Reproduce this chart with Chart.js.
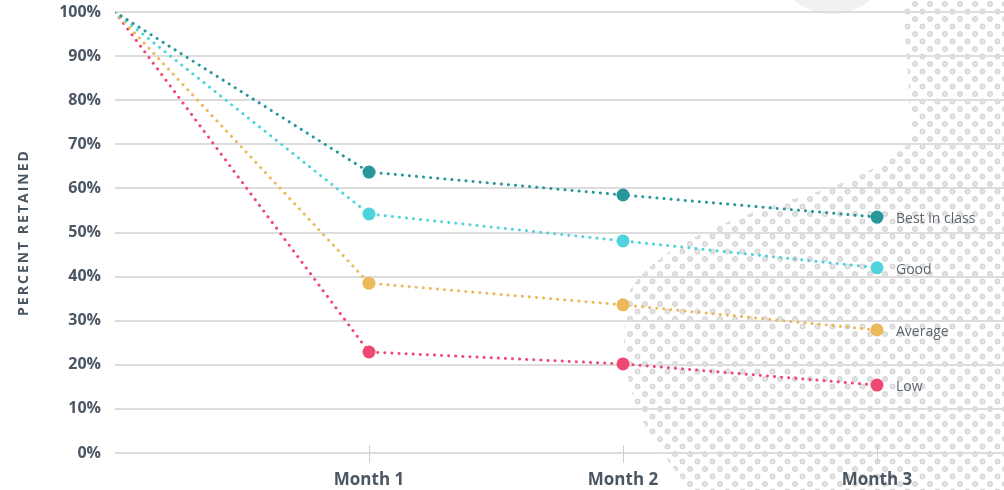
<!DOCTYPE html>
<html>
<head>
<meta charset="utf-8">
<script src="https://cdn.jsdelivr.net/npm/chart.js"></script>
<style>
  body { margin: 0; background: #fff; }
  canvas { display: block; }
</style>
</head>
<body>
<canvas id="chart" width="1004" height="490"></canvas>
<script>
// data
const categories = ["", "Month 1", "Month 2", "Month 3"];
const seriesNames = ["Best in class", "Good", "Average", "Low"];
const bestInClass = [100, 63.7, 58.5, 53.5];
const good = [100, 54.2, 48.1, 42.0];
const average = [100, 38.5, 33.6, 27.9];
const low = [100, 22.9, 20.2, 15.4];
const yTickValues = [0, 5, 10, 15, 20, 25, 30, 35, 40, 45, 50, 55, 60, 65, 70, 75, 80, 85, 90, 95, 100];
const yLabelValues = [0, 10, 20, 30, 40, 50, 60, 70, 80, 90, 100];
const seriesColors = ["#27979c", "#4fd3dd", "#ebb95a", "#ef4872"];

const allSeries = [bestInClass, good, average, low];
const textColor = "#4b5663";

// dotted background decoration
const backdrop = {
    id: "backdrop",
    beforeDraw(chart) {
        const ctx = chart.ctx;
        ctx.save();
        ctx.fillStyle = "#fff";
        ctx.fillRect(0, 0, chart.width, chart.height);

        ctx.fillStyle = "#f1f1f1";
        ctx.beginPath();
        ctx.arc(832, -45, 59, 0, Math.PI * 2);
        ctx.fill();

        ctx.beginPath();
        ctx.moveTo(903, 0);
        ctx.lineTo(912, 140);
        ctx.quadraticCurveTo(880, 175, 790, 200);
        ctx.quadraticCurveTo(660, 240, 630, 290);
        ctx.quadraticCurveTo(610, 380, 660, 450);
        ctx.lineTo(690, 490);
        ctx.lineTo(1004, 490);
        ctx.lineTo(1004, 0);
        ctx.closePath();
        ctx.clip();

        ctx.fillStyle = "#e4e4e4";
        ctx.strokeStyle = "#c8c8c8";
        ctx.lineWidth = 0.8;
        let row = 0;
        for (let y = 4; y < 495; y += 7.5) {
            const off = (row % 2) * 7.5;
            for (let x = 600 + off; x < 1010; x += 15) {
                ctx.beginPath();
                ctx.arc(x, y, 2.5, 0, Math.PI * 2);
                ctx.fill();
                ctx.stroke();
            }
            row++;
        }
        ctx.restore();
    }
};

const extras = {
    id: "extras",
    afterDatasetsDraw(chart) {
        const ctx = chart.ctx;
        ctx.save();
        // series names next to last points
        ctx.font = "14px 'Open Sans'";
        ctx.fillStyle = "#5d656e";
        ctx.textBaseline = "middle";
        chart.data.datasets.forEach((ds, i) => {
            const pts = chart.getDatasetMeta(i).data;
            const p = pts[pts.length - 1];
            ctx.fillText(ds.label, p.x + 19, p.y + 2);
        });

        // small tick marks on the x axis
        const xs = chart.scales.x;
        const y0 = chart.scales.y.getPixelForValue(0);
        ctx.strokeStyle = "#cfcfcf";
        ctx.lineWidth = 1;
        for (let i = 1; i < categories.length; i++) {
            const x = Math.round(xs.getPixelForValue(i)) + 0.5;
            ctx.beginPath();
            ctx.moveTo(x, y0 - 8);
            ctx.lineTo(x, y0 + 10);
            ctx.stroke();
        }

        // axis title
        ctx.translate(24, (chart.chartArea.top + chart.chartArea.bottom) / 2);
        ctx.rotate(-Math.PI / 2);
        ctx.font = "bold 14px 'Open Sans'";
        ctx.letterSpacing = "2px";
        ctx.fillStyle = textColor;
        ctx.textAlign = "center";
        ctx.fillText("PERCENT RETAINED", 0, 0);
        ctx.restore();
    }
};

const datasets = seriesNames.map((name, i) => ({
    label: name,
    data: allSeries[i].map((v, j) => ({ x: j, y: v })),
    borderColor: seriesColors[i],
    backgroundColor: seriesColors[i],
    borderWidth: 3,
    borderDash: [0.1, 7],
    borderCapStyle: "round",
    pointRadius: allSeries[i].map((v, j) => j === 0 ? 0 : 6.5),
    pointBorderWidth: 0,
    tension: 0
}));

new Chart(document.getElementById("chart"), {
    type: "line",
    data: { datasets: datasets },
    options: {
        responsive: false,
        animation: false,
        layout: { autoPadding: false, padding: { top: 12, right: 0, bottom: 0, left: 0 } },
        plugins: {
            legend: { display: false },
            tooltip: { enabled: false }
        },
        scales: {
            x: {
                type: "linear",
                min: 0,
                max: 3.5,
                afterFit: s => { s.height = 37; s.paddingLeft = 0; s.paddingRight = 0; },
                afterBuildTicks: s => {
                    s.ticks = categories.map((c, i) => ({ value: i })).filter(t => categories[t.value] !== "");
                },
                grid: { display: false, drawTicks: false },
                border: { display: false },
                ticks: {
                    padding: 17,
                    color: textColor,
                    font: { family: "'Open Sans'", size: 17, weight: "bold" },
                    callback: v => categories[v]
                }
            },
            y: {
                min: 0,
                max: 100,
                afterFit: s => { s.width = 115; s.paddingTop = 0; s.paddingBottom = 0; },
                afterBuildTicks: s => {
                    s.ticks = yTickValues.map(v => ({ value: v }));
                },
                grid: { color: "#dddddd", lineWidth: 2, drawTicks: false },
                border: { display: false },
                ticks: {
                    padding: 14,
                    color: textColor,
                    font: { family: "'Open Sans'", size: 16, weight: "bold" },
                    callback: v => yLabelValues.includes(v) ? v + "%" : ""
                }
            }
        }
    },
    plugins: [backdrop, extras]
});
</script>
</body>
</html>
